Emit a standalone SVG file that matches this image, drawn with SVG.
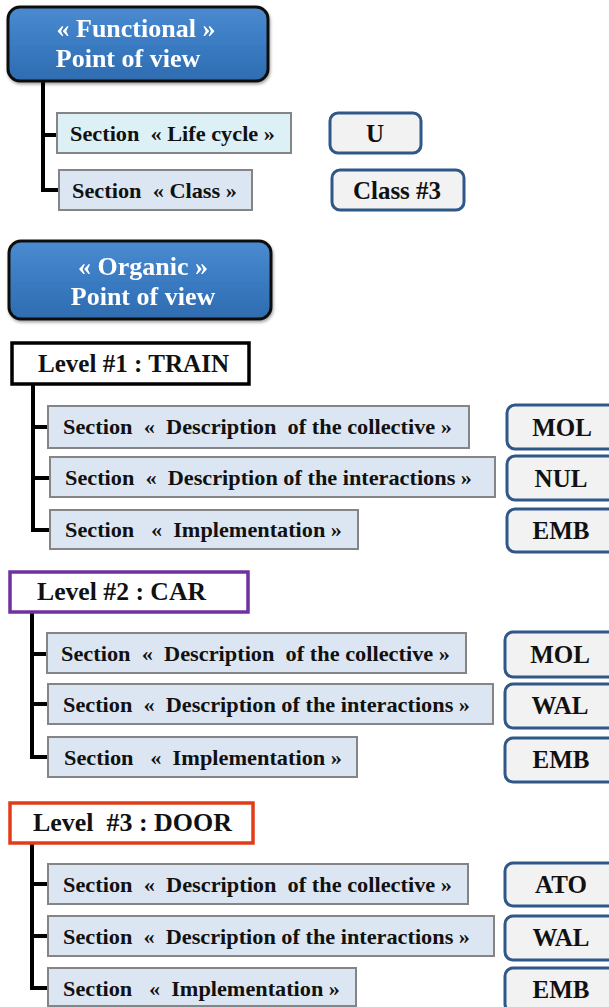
<svg xmlns="http://www.w3.org/2000/svg" width="609" height="1007" viewBox="0 0 609 1007">
  <style>
    text { font-family: "Liberation Serif", "Times New Roman", serif; font-weight: bold; white-space: pre; }
    .view { fill: url(#viewFill); stroke: #111; stroke-width: 3; }
    .viewText { fill: #fff; font-size: 26px; text-anchor: middle; }
    .sec { fill: #dce6f2; stroke: #858585; stroke-width: 2; }
    .secCyan { fill: #dcf0f6; stroke: #858585; stroke-width: 2; }
    .secText { fill: #111; font-size: 22px; }
    .tag { fill: #f2f2f2; stroke: #2f5788; stroke-width: 3; }
    .tagText { fill: #111; font-size: 25px; text-anchor: middle; }
    .lvl { fill: #fff; stroke-width: 3.5; }
    .lvlText { fill: #111; font-size: 25.5px; }
    .wire { fill: none; stroke: #000; stroke-width: 4; stroke-linejoin: miter; }
  </style>
  <defs>
    <linearGradient id="viewFill" x1="0" y1="0" x2="0" y2="1">
      <stop offset="0" stop-color="#4b8bd0"/>
      <stop offset="0.5" stop-color="#3a7bc2"/>
      <stop offset="1" stop-color="#2f6cb0"/>
    </linearGradient>
    <filter id="shadow" x="-10%" y="-10%" width="120%" height="130%">
      <feDropShadow dx="1" dy="2" stdDeviation="1.5" flood-color="#000" flood-opacity="0.35"/>
    </filter>
  </defs>

  <!-- connectors -->
  <g id="connectors">
    <path class="wire" d="M43 81 V190 H60 M43 135 H57"/>
    <path class="wire" d="M33 385 V530 H50 M33 427 H48 M33 478 H50"/>
    <path class="wire" d="M32 612 V757 H48 M32 654 H47 M32 704 H48"/>
    <path class="wire" d="M32 843 V988 H48 M32 884 H48 M32 936 H48"/>
  </g>

  <!-- functional point of view -->
  <g id="functional-view" filter="url(#shadow)">
    <rect class="view" x="8" y="7" width="260" height="74" rx="12"/>
    <text class="viewText" x="136" y="37">« Functional »</text>
    <text class="viewText" x="128" y="67">Point of view</text>
  </g>
  <g id="sec-lifecycle">
    <rect class="secCyan" x="57" y="113" width="234" height="40"/>
    <text class="secText" x="70" y="141" textLength="205" lengthAdjust="spacingAndGlyphs">Section  « Life cycle »</text>
  </g>
  <g id="sec-class">
    <rect class="sec" x="59" y="170" width="193" height="40"/>
    <text class="secText" x="72" y="198" textLength="165" lengthAdjust="spacingAndGlyphs">Section  « Class »</text>
  </g>
  <g id="tag-u">
    <rect class="tag" x="330" y="113" width="91" height="40" rx="8"/>
    <text class="tagText" x="375" y="142">U</text>
  </g>
  <g id="tag-class3">
    <rect class="tag" x="332" y="170" width="132" height="40" rx="8"/>
    <text class="tagText" x="397" y="199">Class #3</text>
  </g>

  <!-- organic point of view -->
  <g id="organic-view" filter="url(#shadow)">
    <rect class="view" x="9" y="241" width="262" height="78" rx="12"/>
    <text class="viewText" x="143" y="275">« Organic »</text>
    <text class="viewText" x="143" y="305">Point of view</text>
  </g>

  <!-- level 1 -->
  <g id="level-1">
    <rect class="lvl" x="12" y="343" width="237" height="41" stroke="#000"/>
    <text class="lvlText" x="38" y="372" textLength="191" lengthAdjust="spacingAndGlyphs">Level #1 : TRAIN</text>
  </g>
  <g id="l1-collective">
    <rect class="sec" x="48" y="406" width="421" height="42"/>
    <text class="secText" x="63" y="434" textLength="389" lengthAdjust="spacingAndGlyphs">Section  «  Description  of the collective »</text>
  </g>
  <g id="l1-interactions">
    <rect class="sec" x="50" y="457" width="445" height="40"/>
    <text class="secText" x="65" y="485" textLength="407" lengthAdjust="spacingAndGlyphs">Section  «  Description of the interactions »</text>
  </g>
  <g id="l1-implementation">
    <rect class="sec" x="50" y="510" width="308" height="39"/>
    <text class="secText" x="65" y="537" textLength="277" lengthAdjust="spacingAndGlyphs">Section   «  Implementation »</text>
  </g>
  <g id="l1-mol">
    <rect class="tag" x="507" y="405" width="112" height="44" rx="8"/>
    <text class="tagText" x="562" y="436">MOL</text>
  </g>
  <g id="l1-nul">
    <rect class="tag" x="507" y="456" width="112" height="44" rx="8"/>
    <text class="tagText" x="561" y="487">NUL</text>
  </g>
  <g id="l1-emb">
    <rect class="tag" x="507" y="509" width="112" height="43" rx="8"/>
    <text class="tagText" x="561" y="539">EMB</text>
  </g>

  <!-- level 2 -->
  <g id="level-2">
    <rect class="lvl" x="10" y="572" width="238" height="40" stroke="#7030a0"/>
    <text class="lvlText" x="37" y="600" textLength="169" lengthAdjust="spacingAndGlyphs">Level #2 : CAR</text>
  </g>
  <g id="l2-collective">
    <rect class="sec" x="47" y="633" width="419" height="40"/>
    <text class="secText" x="61" y="661" textLength="389" lengthAdjust="spacingAndGlyphs">Section  «  Description  of the collective »</text>
  </g>
  <g id="l2-interactions">
    <rect class="sec" x="48" y="684" width="445" height="40"/>
    <text class="secText" x="63" y="712" textLength="407" lengthAdjust="spacingAndGlyphs">Section  «  Description of the interactions »</text>
  </g>
  <g id="l2-implementation">
    <rect class="sec" x="48" y="737" width="309" height="40"/>
    <text class="secText" x="64" y="765" textLength="278" lengthAdjust="spacingAndGlyphs">Section   «  Implementation »</text>
  </g>
  <g id="l2-mol">
    <rect class="tag" x="505" y="632" width="114" height="45" rx="8"/>
    <text class="tagText" x="560" y="663">MOL</text>
  </g>
  <g id="l2-wal">
    <rect class="tag" x="505" y="684" width="114" height="44" rx="8"/>
    <text class="tagText" x="560" y="714">WAL</text>
  </g>
  <g id="l2-emb">
    <rect class="tag" x="505" y="738" width="114" height="44" rx="8"/>
    <text class="tagText" x="561" y="768">EMB</text>
  </g>

  <!-- level 3 -->
  <g id="level-3">
    <rect class="lvl" x="10" y="803" width="243" height="40" stroke="#e03c1a"/>
    <text class="lvlText" x="33" y="831" textLength="199" lengthAdjust="spacingAndGlyphs">Level  #3 : DOOR</text>
  </g>
  <g id="l3-collective">
    <rect class="sec" x="48" y="864" width="420" height="40"/>
    <text class="secText" x="63" y="892" textLength="389" lengthAdjust="spacingAndGlyphs">Section  «  Description  of the collective »</text>
  </g>
  <g id="l3-interactions">
    <rect class="sec" x="48" y="916" width="446" height="40"/>
    <text class="secText" x="63" y="944" textLength="407" lengthAdjust="spacingAndGlyphs">Section  «  Description of the interactions »</text>
  </g>
  <g id="l3-implementation">
    <rect class="sec" x="48" y="968" width="308" height="38"/>
    <text class="secText" x="63" y="996" textLength="277" lengthAdjust="spacingAndGlyphs">Section   «  Implementation »</text>
  </g>
  <g id="l3-ato">
    <rect class="tag" x="505" y="863" width="114" height="43" rx="8"/>
    <text class="tagText" x="561" y="893">ATO</text>
  </g>
  <g id="l3-wal">
    <rect class="tag" x="505" y="916" width="114" height="44" rx="8"/>
    <text class="tagText" x="561" y="946">WAL</text>
  </g>
  <g id="l3-emb">
    <rect class="tag" x="505" y="968" width="114" height="44" rx="8"/>
    <text class="tagText" x="561" y="998">EMB</text>
  </g>
</svg>
